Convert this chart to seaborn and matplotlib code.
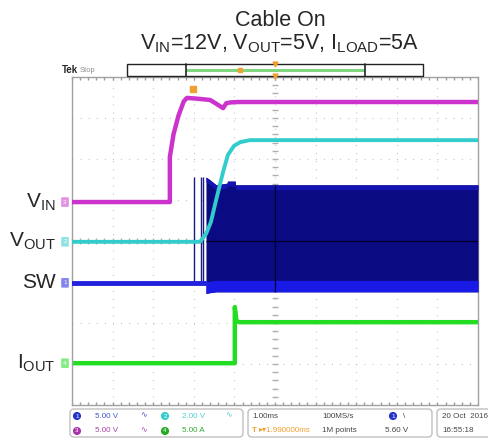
import numpy as np
import matplotlib.pyplot as plt
import seaborn as sns
from matplotlib.patches import FancyBboxPatch, Rectangle

sns.set_style("white")
plt.rcParams['font.family'] = ['Liberation Sans', 'DejaVu Sans']
plt.rcParams['mathtext.fontset'] = 'custom'
plt.rcParams['mathtext.rm'] = 'Liberation Sans'
plt.rcParams['mathtext.it'] = 'Liberation Sans'

# time in ms (1.00 ms/div), levels in screen divisions
vin_t = [0, 2.41, 2.41, 2.50, 2.62, 2.75, 2.83, 3.10, 3.40, 3.55, 3.72, 3.80, 3.90, 4.10, 10]
vin_v = [0.95, 0.95, 2.05, 2.60, 3.05, 3.40, 3.49, 3.47, 3.44, 3.35, 3.24, 3.36, 3.38, 3.39, 3.39]

vout_t = [0, 3.15, 3.30, 3.42, 3.55, 3.72, 3.84, 3.99, 4.14, 4.38, 10]
vout_v = [-0.02, -0.02, 0.17, 0.46, 1.00, 1.68, 2.10, 2.32, 2.41, 2.46, 2.46]

sw_base_t = [0, 3.30]
sw_base_v = [-1.02, -1.02]
sw_spike_t = [3.00, 3.18, 3.23]
sw_spike_top = 1.56
blk_t = [3.30, 3.40, 3.55, 3.82, 3.83, 4.02, 4.03, 10]
blk_top = [1.56, 1.49, 1.37, 1.41, 1.46, 1.46, 1.37, 1.37]
blk_bot = [-1.28, -1.26, -1.24, -1.24, -1.24, -1.24, -1.24, -1.24]

iout_t = [0, 4.01, 4.01, 4.05, 4.12, 10]
iout_v = [-2.98, -2.98, -1.61, -1.95, -1.98, -1.98]

ch_labels = [r'V$_{\mathrm{IN}}$', r'V$_{\mathrm{OUT}}$', 'SW', r'I$_{\mathrm{OUT}}$']
ch_levels = [0.95, -0.02, -1.02, -2.98]
ch_nums = ['3', '2', '1', '4']
ch_colors = ['#cc33cc', '#33cccc', '#2222dd', '#22dd22']

W, H = 489, 445
fig = plt.figure(figsize=(W / 100, H / 100), dpi=100)
ax = fig.add_axes([72 / W, 1 - 405 / H, 406 / W, 328 / H])
ax.set_xlim(0, 10)
ax.set_ylim(-4, 4)

# graticule
dot = (0, (0.8, 6.5))
for gx in range(1, 10):
    ax.axvline(gx, color='#b8b8b8', lw=0.8, ls=dot, zorder=0)
for gy in range(-3, 4):
    ax.axhline(gy, color='#b8b8b8', lw=0.8, ls=dot, zorder=0)
minor_x = np.arange(0, 10.01, 0.2)
minor_y = np.arange(-4, 4.01, 0.2)
ax.plot(minor_x, np.zeros_like(minor_x), '|', color='#b0b0b0', ms=4, zorder=0)
ax.plot(np.full_like(minor_y, 5), minor_y, '_', color='#b0b0b0', ms=4, zorder=0)
ax.plot(minor_x, np.full_like(minor_x, 4), '|', color='#999999', ms=5, zorder=0)
ax.plot(minor_x, np.full_like(minor_x, -4), '|', color='#999999', ms=5, zorder=0)
ax.set_xticks([])
ax.set_yticks([])
for s in ax.spines.values():
    s.set_color('#a0a0a0')
    s.set_linewidth(1.0)

# traces
sns.lineplot(x=iout_t, y=iout_v, color='#22dd22', lw=3.2, estimator=None, sort=False, ax=ax)
ax.fill_between(blk_t, blk_top, blk_bot, color='#0a0a82', lw=0, zorder=3)
ax.fill_between(blk_t, blk_top, [v - 0.12 for v in blk_top], color='#1414b0', lw=0, zorder=3)
ax.fill_between(blk_t, [v + 0.28 for v in blk_bot], blk_bot, color='#1a1ae6', lw=0, zorder=3)
ax.vlines(sw_spike_t, sw_base_v[0], sw_spike_top, color='#1a1a80', lw=1.0, zorder=3)
sns.lineplot(x=sw_base_t, y=sw_base_v, color='#2222dd', lw=3.5, estimator=None, sort=False, ax=ax, zorder=3)
ax.hlines(0, blk_t[0], blk_t[-1], color='#000030', lw=0.9, zorder=4)
ax.vlines(5, blk_bot[-1], blk_top[-1], color='#000030', lw=0.9, zorder=4)
sns.lineplot(x=vout_t, y=vout_v, color='#33cccc', lw=2.8, estimator=None, sort=False, ax=ax, zorder=5)
sns.lineplot(x=vin_t, y=vin_v, color='#cc33cc', lw=3.2, estimator=None, sort=False, ax=ax, zorder=5)
ax.plot([2.99], [3.7], 's', color='#f0a030', ms=5, zorder=6)

# overlay in pixel coordinates for the scope decorations
ov = fig.add_axes([0, 0, 1, 1], facecolor='none')
ov.set_xlim(0, W)
ov.set_ylim(H, 0)
ov.axis('off')

ov.text(280, 21, 'Cable On', ha='center', va='center', fontsize=15.5)
ov.text(280, 44, r'V$_{\mathrm{IN}}$=12V, V$_{\mathrm{OUT}}$=5V, I$_{\mathrm{LOAD}}$=5A',
        ha='center', va='center', fontsize=15.5)

# channel labels and markers
for lab, lev, num, col in zip(ch_labels, ch_levels, ch_nums, ch_colors):
    py = 241 - lev * 41
    ov.text(56, py, lab, ha='right', va='center', fontsize=15)
    ov.add_patch(FancyBboxPatch((62, py - 4), 6, 8, boxstyle='round,pad=0.8',
                                fc=col, ec='none', alpha=0.55))
    ov.text(65, py, num, ha='center', va='center', fontsize=4.5, color='white')

# top bar
ov.text(62, 70, 'Tek', fontsize=7, fontweight='bold', va='center')
ov.text(80, 70, 'Stop', fontsize=5.5, color='#909090', va='center')
ov.add_patch(Rectangle((127, 64), 296, 12, fc='white', ec='#222222', lw=1))
ov.add_patch(Rectangle((186, 68.5), 179, 3, fc='#7fd67f', ec='none'))
ov.plot([186, 186], [64, 76], color='#222222', lw=1.2)
ov.plot([365, 365], [64, 76], color='#222222', lw=1.2)
ov.plot([240], [70], 's', color='#f0a030', ms=3.5)
ov.plot([275], [64], 'v', color='#f0a030', ms=3.5)
ov.plot([275], [76], 'v', color='#f0a030', ms=3.5)

# status bar
for x0, x1 in [(70, 243), (248, 432), (437, 495)]:
    ov.add_patch(FancyBboxPatch((x0, 409), x1 - x0, 28, boxstyle='round,pad=0,rounding_size=4',
                                fc='white', ec='#c0c0c0', lw=1))
fs = 5.8
circ = dict(boxstyle='circle,pad=0.25', ec='none')
ov.text(77, 416, '1', fontsize=4.5, color='white', ha='center', va='center', bbox=dict(circ, fc='#2233cc'))
ov.text(95, 416, '5.00 V', fontsize=fs, color='#4455cc', va='center')
ov.text(140, 416, '∿', fontsize=fs, color='#4455cc', va='center')
ov.text(165, 416, '2', fontsize=4.5, color='white', ha='center', va='center', bbox=dict(circ, fc='#33cccc'))
ov.text(182, 416, '2.00 V', fontsize=fs, color='#55cccc', va='center')
ov.text(225, 416, '∿', fontsize=fs, color='#55cccc', va='center')
ov.text(77, 431, '3', fontsize=4.5, color='white', ha='center', va='center', bbox=dict(circ, fc='#aa33aa'))
ov.text(95, 431, '5.00 V', fontsize=fs, color='#aa44aa', va='center')
ov.text(140, 431, '∿', fontsize=fs, color='#aa44aa', va='center')
ov.text(165, 431, '4', fontsize=4.5, color='white', ha='center', va='center', bbox=dict(circ, fc='#22aa22'))
ov.text(182, 431, '5.00 A', fontsize=fs, color='#33aa33', va='center')

ov.text(252, 416, '1.00ms', fontsize=fs, color='#444444', va='center')
ov.text(322, 416, '100MS/s', fontsize=fs, color='#444444', va='center')
ov.text(393, 416, '1', fontsize=4.5, color='white', ha='center', va='center', bbox=dict(circ, fc='#2233cc'))
ov.text(403, 416, '\\', fontsize=fs, color='#444444', va='center')
ov.text(252, 431, 'T', fontsize=fs, color='#f0a030', va='center', fontweight='bold')
ov.text(259, 431, '\u25B8\u25BE1.990000ms', fontsize=fs, color='#f0a030', va='center')
ov.text(322, 431, '1M points', fontsize=fs, color='#444444', va='center')
ov.text(385, 431, '5.60 V', fontsize=fs, color='#444444', va='center')
ov.text(442, 416, '20 Oct  2016', fontsize=fs, color='#444444', va='center')
ov.text(442, 431, '16:55:18', fontsize=fs, color='#444444', va='center')

fig.savefig('out.png', dpi=100)
